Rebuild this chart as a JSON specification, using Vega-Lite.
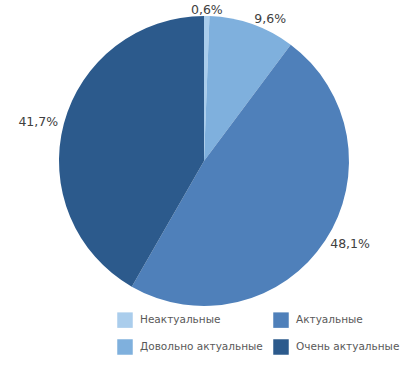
{
  "$schema": "https://vega.github.io/schema/vega-lite/v6.json",
  "width": 408,
  "height": 322,
  "autosize": {"type": "none"},
  "padding": {"left": 0, "top": 0, "right": 5, "bottom": 43},
  "background": "white",
  "data": {
    "values": [
      {"cat": "Неактуальные", "value": 0.6, "label": "0,6%", "o": 1},
      {"cat": "Довольно актуальные", "value": 9.6, "label": "9,6%", "o": 2},
      {"cat": "Актуальные", "value": 48.1, "label": "48,1%", "o": 3},
      {"cat": "Очень актуальные", "value": 41.7, "label": "41,7%", "o": 4}
    ]
  },
  "encoding": {
    "theta": {"field": "value", "type": "quantitative", "stack": true},
    "order": {"field": "o", "type": "quantitative"}
  },
  "layer": [
    {
      "mark": {"type": "arc", "outerRadius": 145},
      "encoding": {
        "color": {
          "field": "cat",
          "type": "nominal",
          "scale": {
            "domain": ["Неактуальные", "Довольно актуальные", "Актуальные", "Очень актуальные"],
            "range": ["#aacdec", "#7fb0dd", "#4f80ba", "#2c5a8c"]
          },
          "legend": {
            "title": null,
            "orient": "none",
            "legendX": 117,
            "legendY": 312,
            "columns": 2,
            "symbolType": "square",
            "symbolSize": 240,
            "symbolStrokeWidth": 0,
            "labelFont": "DejaVu Sans",
            "labelFontSize": 10.5,
            "labelColor": "#595959",
            "labelOffset": 7,
            "columnPadding": 10,
            "rowPadding": 11,
            "labelLimit": 200
          }
        }
      }
    },
    {
      "mark": {
        "type": "text",
        "radius": 151,
        "font": "DejaVu Sans",
        "fontSize": 12.5,
        "fill": "#404040",
        "align": {"expr": "datum.label == '41,7%' ? 'right' : (datum.label == '0,6%' ? 'center' : 'left')"}
      },
      "encoding": {
        "text": {"field": "label"}
      }
    }
  ]
}
